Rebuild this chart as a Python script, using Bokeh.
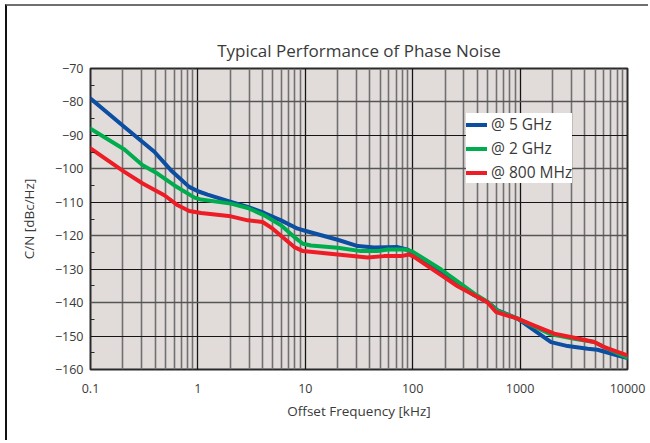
from bokeh.plotting import figure
from bokeh.models import FixedTicker, Grid, Legend, LegendItem
from bokeh.embed import file_html
from bokeh.resources import INLINE

# ---- data ----
freq_5g = [0.1, 0.207, 0.393, 0.56, 0.83, 1.0, 1.23, 2.03, 2.91, 4.15, 5.94, 8.5, 10.1,
           20, 30.8, 44, 72.5, 89.8, 119, 184, 262, 375, 499, 617, 948, 1355, 1940,
           2775, 4260, 5270, 7540, 10000]
cn_5g = [-79.0, -87.5, -94.9, -100.4, -105.4, -106.7, -107.7, -109.9, -111.4, -113.2,
         -115.4, -117.9, -118.6, -121.2, -123.1, -123.5, -123.4, -124.2, -126.9, -130.8,
         -134.5, -137.8, -139.8, -142.3, -144.8, -148.3, -151.8, -153.0, -153.8, -154.1,
         -155.5, -156.6]

freq_2g = [0.1, 0.207, 0.306, 0.42, 0.60, 0.93, 1.07, 2.03, 2.91, 4.15, 5.94, 7.9, 9.5,
           11.3, 20, 33, 47, 58.5, 83.6, 98, 184, 375, 499, 617, 948, 1940, 3200, 4900,
           6550, 10000]
cn_2g = [-88.0, -94.2, -98.9, -101.4, -104.9, -108.6, -109.2, -110.4, -111.7, -113.9,
         -116.9, -120.4, -122.4, -122.9, -123.6, -124.6, -124.6, -124.1, -124.1, -124.6,
         -130.1, -137.3, -139.8, -142.5, -144.8, -149.5, -150.8, -151.8, -153.8, -156.5]

freq_800m = [0.1, 0.207, 0.306, 0.487, 0.65, 0.83, 1.07, 2.03, 2.91, 4.0, 4.97, 6.4, 7.9,
             9.5, 20, 38, 54, 78, 93, 103.5, 184, 262, 375, 499, 597, 948, 1355, 2080,
             3200, 4900, 6080, 10000]
cn_800m = [-93.9, -100.9, -104.4, -107.9, -110.9, -112.6, -113.2, -114.2, -115.4, -115.9,
           -117.9, -120.9, -123.4, -124.6, -125.6, -126.5, -126.1, -126.1, -125.6, -126.4,
           -131.8, -135.1, -137.8, -140.0, -142.8, -144.8, -146.9, -149.3, -150.5, -151.8,
           -153.3, -155.8]

series_names = ["@ 5 GHz", "@ 2 GHz", "@ 800 MHz"]
series_colors = ["#0b4ea2", "#00ac4e", "#ee1c25"]

x_major = [0.1, 1, 10, 100, 1000, 10000]
x_labels = {0.1: "0.1", 1: "1", 10: "10", 100: "100", 1000: "1000", 10000: "10000"}
y_major = list(range(-160, -69, 10))
y_minor = list(range(-155, -70, 10))
x_minor = [m * d for d in [0.1, 1, 10, 100, 1000] for m in range(2, 10)]

FONT = "Open Sans"
TXT = "#3a3a3a"

p = figure(width=643, height=436, x_axis_type="log",
           x_range=(0.1, 10000), y_range=(-160, -70),
           output_backend="svg", toolbar_location=None,
           min_border_left=83, min_border_right=23, min_border_top=62, min_border_bottom=73,
           title="Typical Performance of Phase Noise",
           styles={"border-top": "2px solid #707070", "border-left": "2px solid #111111",
                   "margin-left": "5px", "margin-top": "4px"})

p.background_fill_color = "#e1dcda"
p.border_fill_color = "white"
p.outline_line_color = "#2a2a2a"
p.outline_line_width = 2

p.title.align = "center"
p.title.text_font = FONT
p.title.text_font_size = "17px"
p.title.text_font_style = "normal"
p.title.text_color = TXT
p.title.standoff = 13

p.xgrid.visible = False
p.ygrid.visible = False

p.add_layout(Grid(dimension=0, ticker=FixedTicker(ticks=x_minor),
                  grid_line_color="#707070", grid_line_width=1.6), "center")
p.add_layout(Grid(dimension=0, ticker=FixedTicker(ticks=x_major),
                  grid_line_color="#151515", grid_line_width=1.3), "center")
p.add_layout(Grid(dimension=1, ticker=FixedTicker(ticks=[v for v in y_major if v % 20 == 0]),
                  grid_line_color="#555555", grid_line_width=1.6), "center")
p.add_layout(Grid(dimension=1, ticker=FixedTicker(ticks=[v for v in y_major if v % 20 != 0]),
                  grid_line_color="#151515", grid_line_width=1.2), "center")

renderers = []
for fx, fy, col in [(freq_5g, cn_5g, series_colors[0]),
                    (freq_2g, cn_2g, series_colors[1]),
                    (freq_800m, cn_800m, series_colors[2])]:
    r = p.line(fx, fy, line_color=col, line_width=4, line_join="round", line_cap="round")
    renderers.append(r)

xa = p.xaxis[0]
xa.ticker = FixedTicker(ticks=x_major, minor_ticks=[])
xa.major_label_overrides = x_labels
xa.axis_label = "Offset Frequency [kHz]"
ya = p.yaxis[0]
ya.ticker = FixedTicker(ticks=y_major, minor_ticks=y_minor)
ya.major_label_overrides = {v: ("\u2212" + str(abs(v))) for v in y_major}
ya.axis_label = "C/N [dBc/Hz]"

for ax in (xa, ya):
    ax.axis_line_color = None
    ax.major_tick_in = 0
    ax.major_tick_out = 0
    ax.major_label_text_font = FONT
    ax.major_label_text_font_size = "12.5px"
    ax.major_label_text_color = TXT
    ax.axis_label_text_font = FONT
    ax.axis_label_text_font_size = "13.5px"
    ax.axis_label_text_font_style = "normal"
    ax.axis_label_text_color = TXT
xa.minor_tick_in = 0
xa.minor_tick_out = 0
xa.major_label_standoff = 14
xa.axis_label_standoff = 6
ya.minor_tick_in = 4
ya.minor_tick_out = 0
ya.minor_tick_line_color = "#2a2a2a"
ya.major_label_standoff = 7
ya.axis_label_standoff = 14

legend = Legend(items=[LegendItem(label=n, renderers=[r]) for n, r in zip(series_names, renderers)],
                location=(376, 186), background_fill_color="white", background_fill_alpha=1.0,
                border_line_color=None, padding=4, spacing=2, margin=0,
                label_height=19, glyph_height=19, glyph_width=21, label_standoff=4,
                label_text_font=FONT, label_text_font_size="15.5px", label_text_color=TXT)
p.add_layout(legend, "center")

open("out.html", "w").write(file_html(p, INLINE))
